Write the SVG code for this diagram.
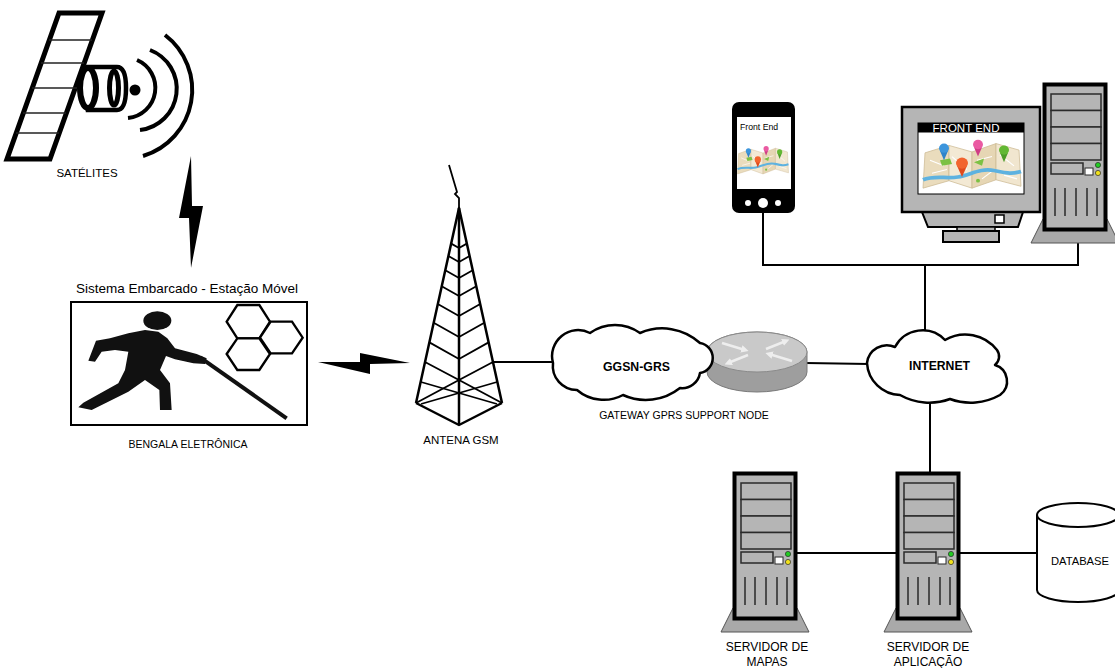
<svg xmlns="http://www.w3.org/2000/svg" width="1115" height="668" viewBox="0 0 1115 668">
  <style>
    text { font-family: "Liberation Sans", Arial, sans-serif; fill: #000; }
    .mid { text-anchor: middle; }
    .bold { font-weight: bold; }
    .wire { stroke: #000; stroke-width: 2; fill: none; }
    .cloud { fill: #fff; stroke: #000; stroke-width: 2.5; stroke-linejoin: round; }
    .bay { fill: #b5b5b5; stroke: #2a2a2a; stroke-width: 1.5; }
    .vent { stroke: #2a2a2a; stroke-width: 1.5; }
    .tw { stroke: #000; stroke-width: 2.5; fill: none; stroke-linejoin: round; }
    .tw2 { stroke: #000; stroke-width: 1.8; fill: none; }
  </style>
  <defs>
    <!-- folded city map with location pins -->
    <symbol id="map" viewBox="0 0 100 56" preserveAspectRatio="none">
      <polygon points="3,16 27,8 27,46 1,54" fill="#eadcbd" stroke="#cdbb95" stroke-width="0.8"/>
      <polygon points="27,8 50,15 50,54 27,46" fill="#f3e9d4" stroke="#cdbb95" stroke-width="0.8"/>
      <polygon points="50,15 74,6 74,45 50,54" fill="#e6d6b4" stroke="#cdbb95" stroke-width="0.8"/>
      <polygon points="74,6 97,13 99,52 74,45" fill="#f1e6cf" stroke="#cdbb95" stroke-width="0.8"/>
      <path d="M8,24 L22,30 M30,20 L45,34 M55,24 L70,20 M78,18 L92,30 M10,38 L25,34 M60,44 L70,36 M82,40 L95,44" stroke="#fff" stroke-width="1.2" fill="none"/>
      <polygon points="18,24 28,22 30,28 20,30" fill="#7cc143"/>
      <polygon points="52,26 62,22 60,30" fill="#7cc143"/>
      <circle cx="56" cy="46" r="2" fill="#7cc143"/>
      <path d="M1,45 C12,40 24,44 36,42 S58,32 72,35 S90,39 99,36" stroke="#5eb2e0" stroke-width="4" fill="none"/>
      <g>
        <polygon points="18,14 26,14 22,24" fill="#2f83c9"/>
        <circle cx="22" cy="11" r="5" fill="#3c95dc"/>
        <polygon points="35,30 45,30 40,42" fill="#e04a1c"/>
        <circle cx="40" cy="27" r="6" fill="#f2642e"/>
        <polygon points="52,10 60,10 56,20" fill="#d03c86"/>
        <circle cx="56" cy="7" r="5" fill="#ea5aa2"/>
        <polygon points="78,16 86,16 82,26" fill="#4c9c28"/>
        <circle cx="82" cy="13" r="5" fill="#62b833"/>
      </g>
    </symbol>
    <!-- tower computer / server cabinet -->
    <g id="srv">
      <polygon points="0,136 64,136 76,160 -12,160" fill="#a9a9a9" stroke="#555" stroke-width="1"/>
      <rect x="1.5" y="1.5" width="61" height="145" fill="#b5b5b5" stroke="#000" stroke-width="4"/>
      <rect class="bay" x="8" y="11" width="50" height="16.5"/>
      <rect class="bay" x="8" y="27.5" width="50" height="16.5"/>
      <rect class="bay" x="8" y="44" width="50" height="16.5"/>
      <rect class="bay" x="8" y="60.5" width="50" height="16.5"/>
      <rect class="bay" x="8" y="80" width="32" height="11"/>
      <rect x="42" y="85" width="8" height="7" fill="#fff" stroke="#2a2a2a" stroke-width="1"/>
      <circle cx="55" cy="82" r="2.6" fill="#22cc22" stroke="#2a2a2a" stroke-width="0.7"/>
      <circle cx="55" cy="90" r="2.6" fill="#f2e21c" stroke="#2a2a2a" stroke-width="0.7"/>
      <line class="vent" x1="12" y1="105" x2="12" y2="133"/>
      <line class="vent" x1="22" y1="105" x2="22" y2="133"/>
      <line class="vent" x1="33" y1="105" x2="33" y2="133"/>
      <line class="vent" x1="44" y1="105" x2="44" y2="133"/>
      <line class="vent" x1="54" y1="105" x2="54" y2="133"/>
    </g>
    <marker id="rarrow" viewBox="0 0 10 10" refX="5" refY="5" markerWidth="3" markerHeight="3" orient="auto">
      <path d="M0,0 L10,5 L0,10 Z" fill="#eeeeee"/>
    </marker>
  </defs>

  <!-- connectors -->
  <g id="connectors">
    <line class="wire" x1="493" y1="362" x2="554" y2="362"/>
    <line class="wire" x1="806" y1="363" x2="869" y2="364"/>
    <polyline class="wire" points="763,212 763,265 1078,265 1078,242"/>
    <line class="wire" x1="925" y1="265" x2="925" y2="332"/>
    <line class="wire" x1="930" y1="399" x2="930" y2="472"/>
    <line class="wire" x1="797" y1="553" x2="896" y2="553"/>
    <line class="wire" x1="960" y1="553" x2="1037" y2="553"/>
    <!-- radio links -->
    <polygon points="191,156 192,206 203,206 191,268 189,218 179,218" fill="#000"/>
    <polygon points="318,362 360,362 360,353 410,363 370,364 370,374" fill="#000"/>
  </g>

  <!-- satellite -->
  <g id="satelites">
    <polygon points="59,13 102,13 50,159 7,159" fill="#fff" stroke="#000" stroke-width="5" stroke-linejoin="miter"/>
    <g stroke="#222" stroke-width="1.6">
      <line x1="49" y1="40" x2="92" y2="40"/>
      <line x1="41" y1="63" x2="84" y2="63"/>
      <line x1="32" y1="88" x2="82" y2="88"/>
      <line x1="23" y1="113" x2="66" y2="113"/>
      <line x1="16" y1="133" x2="59" y2="133"/>
    </g>
    <path d="M88,67 L117,67 Q126,67 126,88 Q126,110 117,110 L88,110 Z" fill="#fff" stroke="#000" stroke-width="4.5"/>
    <ellipse cx="114" cy="88" rx="4.5" ry="17" fill="#fff" stroke="#000" stroke-width="5"/>
    <ellipse cx="88" cy="88" rx="8" ry="20" fill="#fff" stroke="#000" stroke-width="6"/>
    <circle cx="135" cy="90" r="5.5" fill="#000"/>
    <g fill="none" stroke="#000" stroke-width="4" stroke-linecap="butt">
      <path d="M137,60 A30.3,30.3 0 0 1 128,118"/>
      <path d="M150,50 A41.5,41.5 0 0 1 140,130"/>
      <path d="M165,35 A69,69 0 0 1 143,156"/>
    </g>
    <text class="mid" x="87" y="177" font-size="11.5">SATÉLITES</text>
  </g>

  <!-- embedded system: electronic cane -->
  <g id="bengala">
    <text class="mid" x="187" y="293" font-size="13.5">Sistema Embarcado - Estação Móvel</text>
    <rect x="71" y="302" width="236" height="123" fill="#fff" stroke="#000" stroke-width="2"/>
    <g transform="translate(60,270) scale(0.33333)">
      <ellipse cx="292" cy="152" rx="42" ry="28" fill="#111"/>
      <path d="M85,272 L108,212 L150,205 L205,190 L255,180 L295,185 L322,205 L345,235 L410,252 L440,265 L435,282 L400,280 L345,268 L318,258 L300,300 L330,340 L335,420 L300,420 L298,360 L255,330 L205,365 L95,420 L55,412 L70,398 L175,340 L195,300 L205,245 L165,240 L125,245 L105,275 Z" fill="#111"/>
      <line x1="420" y1="262" x2="680" y2="445" stroke="#111" stroke-width="12"/>
      <g fill="#fff" stroke="#000" stroke-width="7" stroke-linejoin="miter">
        <polygon points="500,155 532,105 598,105 630,155 598,205 532,205"/>
        <polygon points="600,203 632,155 696,155 728,203 696,250 632,250"/>
        <polygon points="500,252 532,205 598,205 630,252 598,300 532,300"/>
      </g>
    </g>
    <text class="mid" x="188" y="448" font-size="10.5">BENGALA ELETRÔNICA</text>
  </g>

  <!-- GSM antenna tower -->
  <g id="antena">
    <polyline class="tw2" points="449,165 457,192 455,194 459,198 459,208"/>
    <polyline class="tw" points="416,403 459,208 502,403"/>
    <line class="tw" x1="459" y1="208" x2="459" y2="425"/>
    <polyline class="tw" points="416,403 459,425 502,403"/>
    <polyline class="tw2" points="416,403 459,380 502,403"/>
    <g class="tw2">
      <polyline points="451.2,243.6 459,248 466.8,243.6"/>
      <polyline points="448.4,256 459,262 469.6,256"/>
      <polyline points="445.3,270.3 459,278 472.7,270.3"/>
      <polyline points="441.7,286.3 459,296 476.3,286.3"/>
      <polyline points="437.8,304 459,316 480.2,304"/>
      <polyline points="433.7,322.8 459,337 484.3,322.8"/>
      <polyline points="429.4,342.4 459,359 488.6,342.4"/>
      <polyline points="425,362 459,380 493,362"/>
      <line x1="421" y1="382" x2="497" y2="404"/>
      <line x1="497" y1="382" x2="421" y2="404"/>
    </g>
    <text class="mid" x="461" y="443.5" font-size="11.5">ANTENA GSM</text>
  </g>

  <!-- GGSN gateway with router -->
  <g id="ggsn">
    <path d="M707,372 L707,352 A50,20 0 0 1 807,352 L807,372 A50,20 0 0 1 707,372 Z" fill="#9e9e9e" stroke="#7a7a7a" stroke-width="1"/>
    <ellipse cx="757" cy="352" rx="50" ry="20" fill="#c9c9c9" stroke="#8a8a8a" stroke-width="1"/>
    <g stroke="#eeeeee" stroke-width="2.5" marker-end="url(#rarrow)">
      <line x1="722" y1="343" x2="745" y2="350"/>
      <line x1="792" y1="361" x2="769" y2="354"/>
      <line x1="766" y1="349" x2="786" y2="341"/>
      <line x1="748" y1="355" x2="728" y2="363"/>
    </g>
    <path class="cloud" d="M553,363 A26,26 0 0 1 590,333 A43,43 0 0 1 640,333 A56,56 0 0 1 700,343 A15.2,15.2 0 0 1 700,373 A18,18 0 0 1 680,388 A55,55 0 0 1 623,395 A41,41 0 0 1 577,390 A24,24 0 0 1 553,363 Z"/>
    <text class="mid bold" x="636.5" y="371" font-size="12.3">GGSN-GRS</text>
    <text class="mid" x="684" y="419" font-size="10.5">GATEWAY GPRS SUPPORT NODE</text>
  </g>

  <!-- internet -->
  <g id="internet">
    <path class="cloud" d="M867,363 A20,20 0 0 1 895,347 A31,31 0 0 1 945,340 A40,40 0 0 1 997,350 A11,11 0 0 1 995,365 A17,17 0 0 1 1000,395 A60,60 0 0 1 950,399 A60,60 0 0 1 900,395 A34,34 0 0 1 867,363 Z"/>
    <text class="mid bold" x="939.5" y="370" font-size="12.2">INTERNET</text>
  </g>

  <!-- mobile front end -->
  <g id="smartphone">
    <rect x="732" y="102" width="63" height="111" rx="7" fill="#000"/>
    <rect x="737" y="117" width="54" height="72" fill="#fff"/>
    <text x="740" y="130" font-size="8.7">Front End</text>
    <use href="#map" x="737" y="145" width="52" height="30"/>
    <circle cx="748" cy="203" r="3" fill="#fff"/>
    <circle cx="763" cy="203" r="5" fill="#fff"/>
    <circle cx="778" cy="203" r="3" fill="#fff"/>
  </g>

  <!-- desktop front end -->
  <g id="desktop">
    <polygon points="922,212 1023,212 1018,227 928,227" fill="#b5b5b5" stroke="#000" stroke-width="2"/>
    <rect x="957" y="227" width="38" height="4" fill="#b5b5b5" stroke="#000" stroke-width="1.5"/>
    <rect x="943" y="231" width="56" height="11" fill="#b5b5b5" stroke="#000" stroke-width="2"/>
    <rect x="902" y="107" width="138" height="105" fill="#b5b5b5" stroke="#000" stroke-width="2.5"/>
    <rect x="995" y="215" width="9" height="8" fill="#fff" stroke="#000" stroke-width="1.5"/>
    <rect x="918" y="123" width="106" height="71" fill="#fff" stroke="#000" stroke-width="1"/>
    <rect x="918" y="123" width="106" height="9.5" fill="#000"/>
    <text class="mid" x="966" y="132" font-size="11.5" style="fill:#fff">FRONT END</text>
    <use href="#map" x="922" y="138" width="100" height="52"/>
  </g>
  <g id="cpu">
    <use href="#srv" transform="translate(1043,83)"/>
  </g>

  <!-- back-end servers -->
  <g id="servidor-mapas">
    <use href="#srv" transform="translate(733,472)"/>
    <text class="mid" x="767" y="651" font-size="12">SERVIDOR DE</text>
    <text class="mid" x="767" y="666" font-size="12">MAPAS</text>
  </g>
  <g id="servidor-aplicacao">
    <use href="#srv" transform="translate(896,472)"/>
    <text class="mid" x="928" y="651" font-size="12">SERVIDOR DE</text>
    <text class="mid" x="928" y="666" font-size="12">APLICAÇÃO</text>
  </g>

  <!-- database -->
  <g id="database">
    <path d="M1037,515 L1037,590 A41,12 0 0 0 1119,590 L1119,515" fill="#fff" stroke="#000" stroke-width="2"/>
    <ellipse cx="1078" cy="515" rx="41" ry="12" fill="#fff" stroke="#000" stroke-width="2"/>
    <text class="mid" x="1080" y="565" font-size="11.2">DATABASE</text>
  </g>
</svg>
